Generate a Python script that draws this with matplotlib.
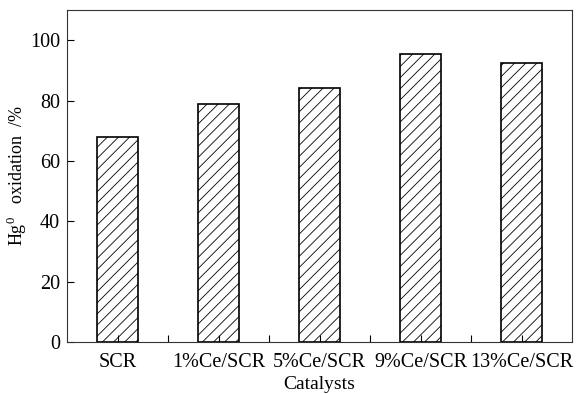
import numpy as np
import matplotlib.pyplot as plt

plt.rcParams['font.family'] = ['Liberation Serif', 'DejaVu Serif']
plt.rcParams['mathtext.fontset'] = 'custom'
plt.rcParams['mathtext.rm'] = 'Liberation Serif'
plt.rcParams['hatch.linewidth'] = 0.6

# Datos de oxidación de Hg0 por catalizador
catalysts = ['SCR', '1%Ce/SCR', '5%Ce/SCR', '9%Ce/SCR', '13%Ce/SCR']
oxidation = [68, 79, 84, 95.3, 92.6]

fig = plt.figure(figsize=(5.84, 3.94), dpi=100)
ax = fig.add_axes([67/584, 1-342/394, (572-67)/584, (342-10)/394])

x = np.arange(len(catalysts))
ax.bar(x, oxidation, width=0.4, color='white', edgecolor='black',
       linewidth=1.2, hatch='///')

ax.set_xlim(-0.5, 4.5)
ax.set_ylim(0, 110)
ax.set_yticks([0, 20, 40, 60, 80, 100])
ax.set_xticks(x)
ax.set_xticklabels(catalysts)
ax.set_xticks(x[:-1] + 0.5, minor=True)
ax.tick_params(direction='in', length=5, width=0.8, pad=5)
ax.tick_params(which='minor', direction='in', length=5, width=0.8)
ax.tick_params(axis='y', labelsize=14.5)
ax.tick_params(axis='x', labelsize=14.5, pad=8)
for s in ax.spines.values():
    s.set_linewidth(0.8)
    s.set_color('#333333')

ax.set_ylabel('Hg$^0$   oxidation  /%', fontsize=13)
ax.yaxis.set_label_coords(-38/505, 0.5)
ax.set_xlabel('Catalysts', fontsize=14, labelpad=3)

fig.savefig('out.png', dpi=100)
